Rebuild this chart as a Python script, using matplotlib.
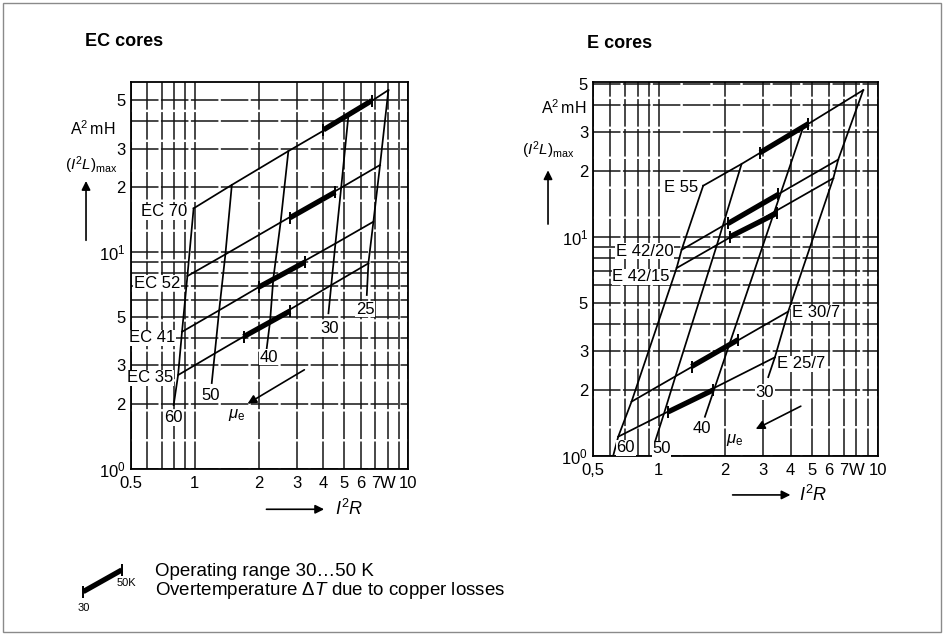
import numpy as np
import matplotlib.pyplot as plt
from matplotlib.patches import Rectangle

plt.rcParams['font.family'] = ['Liberation Sans', 'DejaVu Sans']
plt.rcParams['mathtext.fontset'] = 'custom'
plt.rcParams['mathtext.rm'] = 'Liberation Sans'
plt.rcParams['mathtext.it'] = 'Liberation Sans:italic'
plt.rcParams['mathtext.bf'] = 'Liberation Sans:bold'

# ---- EC cores: (I^2 R [W], (I^2 L)max [A^2 mH]) at each mu_e ----
ec_mu = [60, 50, 40, 30, 25]
ec_names = ['EC 70', 'EC 52', 'EC 41', 'EC 35']
ec_p = [[0.987, 1.49, 2.74, 5.23, 8.05],
        [0.923, 1.39, 2.52, 4.84, 7.36],
        [0.871, 1.30, 2.33, 4.55, 6.85],
        [0.835, 1.24, 2.25, 4.35, 6.49]]
ec_l = [[15.9, 20.4, 29.2, 42.3, 55.8],
        [7.75, 9.76, 13.7, 19.8, 25.2],
        [4.29, 5.39, 7.55, 10.95, 13.8],
        [2.71, 3.41, 4.80, 7.04, 8.87]]
# lower ends of the mu_e lines (down to the mu_e labels)
ec_tail_p = [0.796, 1.20, 2.17, 4.22, 6.38]
ec_tail_l = [1.97, 2.49, 3.60, 5.22, 6.34]
# operating range 30...50 K on every core line
ec_rng_p = [[4.0, 6.73], [2.79, 4.54], [1.99, 3.28], [1.69, 2.79]]
ec_rng_l = [[36.6, 49.9], [14.4, 18.9], [6.89, 9.0], [4.07, 5.35]]

# ---- E cores ----
e_mu = [60, 50, 40, 30]
e_names = ['E 55', 'E 42/20', 'E 42/15', 'E 30/7', 'E 25/7']
e_p = [[1.594, 2.388, 4.57, 8.59],
       [1.27, 1.957, 3.61, 6.60],
       [1.205, 1.842, 3.37, 6.27],
       [0.750, 1.191, 2.09, 3.90],
       [0.652, 1.055, 1.80, 3.39]]
e_l = [[17.1, 21.5, 31.7, 46.7],
       [8.72, 11.2, 15.9, 22.5],
       [7.20, 9.18, 13.0, 18.5],
       [1.77, 2.31, 3.19, 4.56],
       [1.225, 1.56, 2.05, 2.82]]
e_tail_p = [0.618, 0.949, 1.623, 3.16]
e_tail_l = [1.0, 1.12, 1.51, 2.29]
e_rng_p = [[2.90, 4.82], [2.07, 3.51], [2.11, 3.45], [1.41, 2.30], [1.103, 1.77]]
e_rng_l = [[24.2, 32.8], [11.5, 15.6], [10.0, 12.8], [2.56, 3.39], [1.59, 2.00]]

# axis ticks
x_major = [0.5, 1, 2, 3, 4, 5, 6, 7, 8, 10]
x_minor = [0.6, 0.7, 0.8, 0.9, 9]
y_major = [1, 2, 3, 5, 10, 20, 30, 50]
y_major_labels = ['$10^0$', '2', '3', '5', '$10^1$', '2', '3', '5']
y_minor = [4, 6, 7, 8, 9, 40]

# legend sample: overtemperature range
leg_dt = [30, 50]
leg_step = [0, 1]

LW = 1.25
FS = 12


def core_chart(ax, mu, p, l, tail_p, tail_l, rng_p, rng_l, ymax, xlabels):
    ax.set_xscale('log')
    ax.set_yscale('log')
    ax.set_xlim(0.5, 10)
    ax.set_ylim(1, ymax)
    ax.set_xticks(x_major)
    ax.set_xticklabels(xlabels)
    ax.set_xticks(x_minor, minor=True)
    ax.set_xticklabels([], minor=True)
    ax.set_yticks(y_major)
    ax.set_yticklabels(y_major_labels)
    ax.set_yticks(y_minor, minor=True)
    ax.set_yticklabels([], minor=True)
    ax.tick_params(which='both', length=0, labelsize=FS)
    ax.tick_params(axis='x', pad=5)
    ax.tick_params(axis='y', pad=3.5)
    ax.set_axisbelow(True)
    ax.grid(which='both', color='#151515', lw=1.1, ls=(0, (18, 1.6)))
    for s in ax.spines.values():
        s.set_linewidth(1.3)

    P = np.array(p)
    L = np.array(l)
    for cp, cl in zip(P, L):
        ax.plot(cp, cl, color='k', lw=LW)
    for j in range(len(mu)):
        ax.plot(np.append(P[:, j], tail_p[j]), np.append(L[:, j], tail_l[j]),
                color='k', lw=LW)
    for rp, rl in zip(rng_p, rng_l):
        ax.plot(rp, rl, color='k', lw=3.8, solid_capstyle='butt')
        ax.plot(rp, rl, ls='none', marker='|', ms=9, mew=1.4, color='k')


def lab(ax, x, y, s, ha='center'):
    ax.text(x, y, s, ha=ha, va='center', fontsize=FS, zorder=5,
            bbox=dict(fc='white', ec='none', pad=0.4))


def y_title(ax, x_unit, y_unit, x_name, y_name, x_arr, y_arr):
    tr = ax.get_yaxis_transform()
    ax.text(x_unit, y_unit, r'$\mathrm{A^2\,mH}$', transform=tr, ha='right',
            va='center', fontsize=FS - 0.5)
    ax.text(x_name, y_name, r'$(I^2L)_{\mathrm{max}}$', transform=tr,
            ha='center', va='center', fontsize=FS - 1)
    ax.annotate('', xy=(x_arr, y_arr[1]), xytext=(x_arr, y_arr[0]),
                xycoords=tr, arrowprops=dict(arrowstyle='-|>', color='k',
                                             lw=1.2, mutation_scale=13))


def x_title(ax, x0, x1, xt):
    tr = ax.get_xaxis_transform()
    ax.annotate('', xy=(x1, -0.104), xytext=(x0, -0.104), xycoords=tr,
                arrowprops=dict(arrowstyle='-|>', color='k', lw=1.2,
                                mutation_scale=13))
    ax.text(xt, -0.104, r'$I^2R$', transform=tr, ha='left', va='center',
            fontsize=FS + 1)


def mu_arrow(ax, tail, head, pos):
    ax.annotate('', xy=head, xytext=tail,
                arrowprops=dict(arrowstyle='-|>', color='k', lw=1.2,
                                mutation_scale=13))
    lab(ax, pos[0], pos[1], r'$\mu_\mathrm{e}$')


fig = plt.figure(figsize=(9.45, 6.35), dpi=100)

# EC cores
ax1 = fig.add_axes([130.5 / 945, 1 - 469 / 635, 278 / 945, 387.3 / 635])
core_chart(ax1, ec_mu, ec_p, ec_l, ec_tail_p, ec_tail_l, ec_rng_p, ec_rng_l,
           61, ['0.5', '1', '2', '3', '4', '5', '6', '7', 'W', '10'])
for name, x, y in zip(ec_names, [0.92, 0.855, 0.811, 0.793],
                      [15.3, 7.19, 4.02, 2.63]):
    lab(ax1, x, y, name, ha='right')
for m, x, y in zip(ec_mu, [0.796, 1.19, 2.23, 4.25, 6.27],
                   [1.72, 2.19, 3.28, 4.42, 5.46]):
    lab(ax1, x, y, str(m))
mu_arrow(ax1, (3.34, 2.91), (1.72, 1.97), (1.57, 1.77))
y_title(ax1, -0.056, 37.2, -0.14, 25.2, -0.16, (11.0, 21.9))
x_title(ax1, 2.10, 4.15, 4.52)

# E cores
ax2 = fig.add_axes([593 / 945, 1 - 456 / 635, 284.7 / 945, 374.3 / 635])
core_chart(ax2, e_mu, e_p, e_l, e_tail_p, e_tail_l, e_rng_p, e_rng_l,
           51, ['0,5', '1', '2', '3', '4', '5', '6', '7', 'W', '10'])
for name, x, y, ha in zip(e_names, [1.508, 1.162, 1.123, 4.05, 3.45],
                          [16.7, 8.57, 6.59, 4.51, 2.63],
                          ['right', 'right', 'right', 'left', 'left']):
    lab(ax2, x, y, name, ha=ha)
for m, x, y in zip(e_mu, [0.706, 1.03, 1.567, 3.05],
                   [1.09, 1.08, 1.34, 1.95]):
    lab(ax2, x, y, str(m))
mu_arrow(ax2, (4.57, 1.71), (2.70, 1.31), (2.23, 1.18))
y_title(ax2, -0.022, 38.7, -0.158, 24.9, -0.158, (11.1, 20.7))
x_title(ax2, 2.11, 4.11, 4.38)

bold = dict(fontsize=13, fontweight='bold', va='center')
fig.text(85 / 945, 1 - 41.7 / 635, 'EC cores', **bold)
fig.text(586.7 / 945, 1 - 43.3 / 635, 'E cores', **bold)

# legend for the operating range marks
lg = fig.add_axes([80 / 945, 1 - 600 / 635, 50 / 945, 40 / 635])
lg.set_xlim(28.3, 54.3)
lg.set_ylim(-0.389, 1.463)
lg.axis('off')
lg.plot(leg_dt, leg_step, color='k', lw=3.8, solid_capstyle='butt')
lg.plot(leg_dt, leg_step, ls='none', marker='|', ms=9, mew=1.4, color='k')
lg.text(leg_dt[0], -0.75, '30', ha='center', va='center', fontsize=8)
lg.text(leg_dt[1] + 2.2, 0.42, '50K', ha='center', va='center', fontsize=8)

fig.text(155 / 945, 1 - 582 / 635,
         'Operating range 30\u202650 K\n'
         r'Overtemperature $\mathit{\Delta T}$ due to copper losses',
         fontsize=13.5, va='center', linespacing=0.98)

fig.patches.append(Rectangle((0.003, 0.004), 0.993, 0.991, fill=False,
                             ec='#8a8a8a', lw=1.0, transform=fig.transFigure))

fig.savefig('out.png', dpi=100)
plt.close(fig)
